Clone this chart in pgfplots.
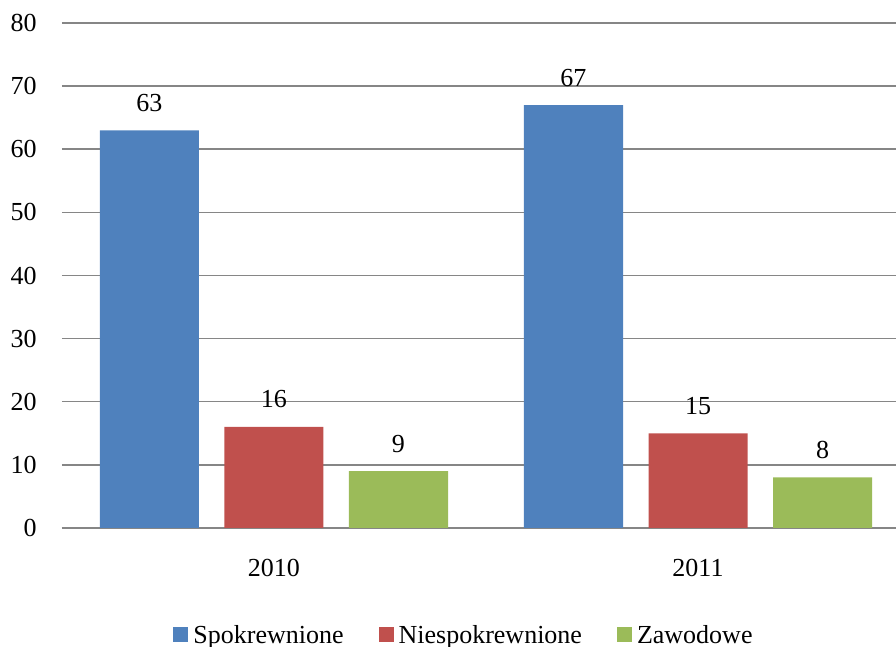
\documentclass[border=0pt]{standalone}
\usepackage{pgfplots}
\pgfplotsset{compat=1.18}
\usepackage{fontspec}
\setmainfont{Liberation Serif}
\definecolor{cblue}{HTML}{4F81BD}
\definecolor{cred}{HTML}{C0504D}
\definecolor{cgreen}{HTML}{9BBB59}
\definecolor{gridgray}{RGB}{134,134,134}
\begin{document}
\fontsize{13pt}{15pt}\selectfont
\begin{tikzpicture}
\begin{axis}[
  x=212pt, y=3.15625pt,
  xmin=-0.5, xmax=1.467, ymin=0, ymax=80,
  axis x line*=bottom, axis y line*=left,
  x axis line style={color=gridgray, line width=1.1pt, -},
  y axis line style={draw=none},
  major tick length=0pt,
  ytick={0,10,...,80},
  ymajorgrids, grid style={color=gridgray, line width=0.75pt},
  xtick={0,1}, xticklabels={2010,2011},
  tick label style={font=\fontsize{13pt}{15pt}\selectfont},
  /pgf/number format/assume math mode=true,
  yticklabel style={anchor=east, inner sep=0pt, xshift=-12.5pt},
  xticklabel style={anchor=base, inner sep=0pt, yshift=-24.5pt},
  ybar, bar width=49.5pt,
  nodes near coords,
  every node near coord/.append style={anchor=base, inner sep=0pt, yshift=9.5pt, font=\fontsize{13pt}{15pt}\selectfont, text=black},
  clip=false,
  legend columns=3,
  legend style={draw=none, fill=none, at={(0.4808,-0.21)}, anchor=center,
    font=\fontsize{13pt}{15pt}\selectfont, inner sep=0pt,
    /tikz/every even column/.append style={column sep=17.5pt},
    nodes={inner sep=0pt, text depth=0pt}},
  legend cell align=left,
]
\addplot[fill=cblue, draw=none, bar shift=-62.25pt,
  legend image code/.code={\fill[cblue] (0pt,-3.75pt) rectangle (7.5pt,3.75pt); \path (10pt,0pt);}]
  coordinates {(0,63) (1,67)};
\addplot[fill=cred, draw=none, bar shift=0pt,
  legend image code/.code={\fill[cred] (0pt,-3.75pt) rectangle (7.5pt,3.75pt); \path (10pt,0pt);}]
  coordinates {(0,16) (1,15)};
\addplot[fill=cgreen, draw=none, bar shift=62.25pt,
  legend image code/.code={\fill[cgreen] (0pt,-3.75pt) rectangle (7.5pt,3.75pt); \path (10pt,0pt);}]
  coordinates {(0,9) (1,8)};
\legend{Spokrewnione, Niespokrewnione, Zawodowe}
\end{axis}
\pgfresetboundingbox
\useasboundingbox (-31pt,-59.5pt) rectangle (417pt,264pt);
\end{tikzpicture}
\end{document}
